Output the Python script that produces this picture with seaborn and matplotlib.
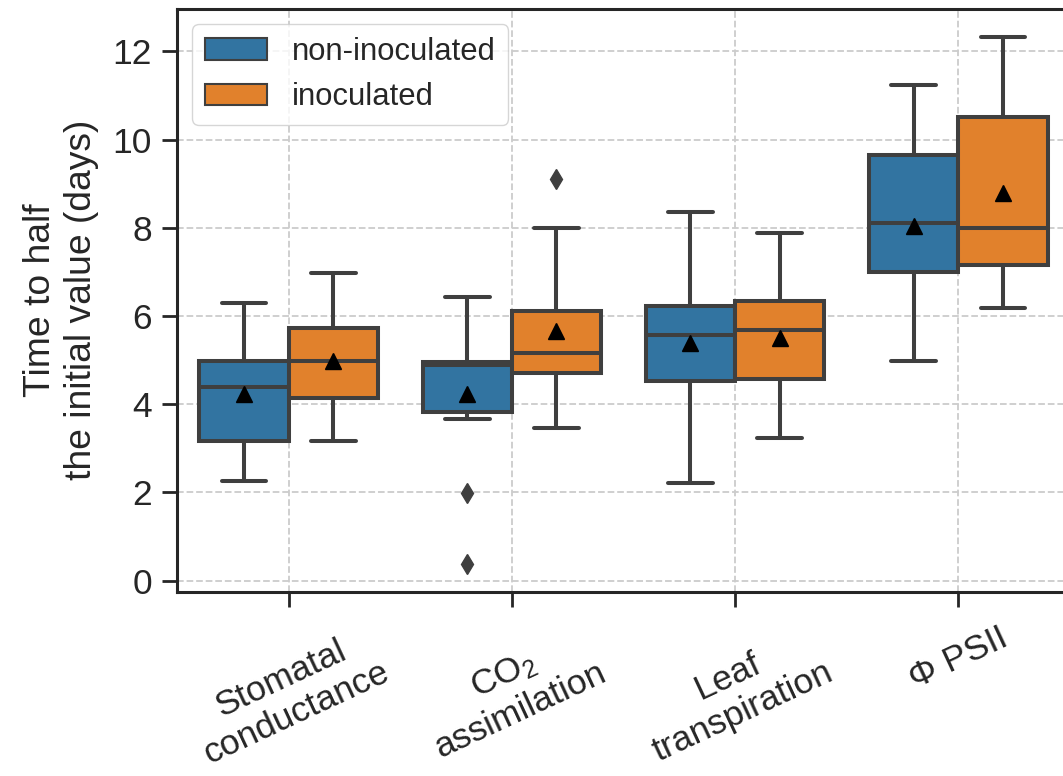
import matplotlib
matplotlib.use("Agg")
import matplotlib.pyplot as plt
from matplotlib.patches import Patch
import seaborn as sns

# Measured variables (x-axis categories)
categories = ["Stomatal\nconductance", "CO$_\\mathregular{2}$\nassimilation",
              "Leaf\ntranspiration", "\u03A6 PSII"]
groups = ["non-inoculated", "inoculated"]

# Box statistics (days) per group, one entry per category
whislo_non = [2.26, 3.66, 2.21, 4.98]
q1_non     = [3.17, 3.83, 4.53, 6.99]
median_non = [4.38, 4.89, 5.58, 8.11]
q3_non     = [4.98, 4.96, 6.22, 9.66]
whishi_non = [6.29, 6.43, 8.35, 11.24]
mean_non   = [4.23, 4.23, 5.39, 8.05]
fliers_non = [[], [1.99, 0.38], [], []]

whislo_ino = [3.17, 3.47, 3.23, 6.18]
q1_ino     = [4.15, 4.71, 4.57, 7.16]
median_ino = [4.98, 5.17, 5.69, 7.99]
q3_ino     = [5.73, 6.11, 6.35, 10.50]
whishi_ino = [6.97, 7.99, 7.87, 12.33]
mean_ino   = [4.98, 5.66, 5.50, 8.79]
fliers_ino = [[], [9.11], [], []]

sns.set_style("ticks")
plt.rcParams["font.family"] = ["Liberation Sans", "DejaVu Sans"]
plt.rcParams["mathtext.fontset"] = "custom"
plt.rcParams["mathtext.rm"] = "Liberation Sans"
plt.rcParams["mathtext.default"] = "regular"

pal = sns.color_palette(["#3274a1", "#e1812c"])
gray = "#3f3f3f"

fig = plt.figure(figsize=(10.63, 7.76), dpi=100)
ax = fig.add_axes([0.1665, 0.2375, 0.84, 0.751])


def stats_for(i, lo, q1, med, q3, hi, mean, fl):
    return dict(whislo=lo[i], q1=q1[i], med=med[i], q3=q3[i], whishi=hi[i],
                mean=mean[i], fliers=fl[i])


series = [
    (whislo_non, q1_non, median_non, q3_non, whishi_non, mean_non, fliers_non),
    (whislo_ino, q1_ino, median_ino, q3_ino, whishi_ino, mean_ino, fliers_ino),
]
offsets = [-0.2, 0.2]
lw = 2.9

for g, (data, off) in enumerate(zip(series, offsets)):
    stats = [stats_for(i, *data) for i in range(len(categories))]
    pos = [i + off for i in range(len(categories))]
    ax.bxp(stats, positions=pos, widths=0.4, patch_artist=True,
           showmeans=True, showfliers=True,
           boxprops=dict(facecolor=pal[g], edgecolor=gray, linewidth=lw),
           medianprops=dict(color=gray, linewidth=lw),
           whiskerprops=dict(color=gray, linewidth=lw),
           capprops=dict(color=gray, linewidth=lw),
           flierprops=dict(marker="d", markerfacecolor=gray, markeredgecolor=gray,
                           markersize=10),
           meanprops=dict(marker="^", markerfacecolor="black",
                          markeredgecolor="black", markersize=12),
           zorder=3)

ax.set_xlim(-0.5, 3.5)
ax.set_ylim(-0.25, 12.96)
ax.set_xticks(range(len(categories)))
ax.set_xticklabels(categories, rotation=25, ha="center", multialignment="center",
                   fontsize=25.5)
ax.set_yticks([0, 2, 4, 6, 8, 10, 12])
ax.tick_params(axis="y", labelsize=25.5, pad=7)
ax.tick_params(axis="x", pad=10)
ax.tick_params(length=11, width=2, color="#262626")
ax.set_ylabel("Time to half\nthe initial value (days)", fontsize=26.8, labelpad=10)
ax.grid(True, linestyle="--", color="#cccccc", linewidth=1.3, zorder=0)
ax.set_axisbelow(True)
for s in ax.spines.values():
    s.set_linewidth(2.2)
    s.set_color("#262626")

handles = [Patch(facecolor=pal[g], edgecolor=gray, linewidth=1.5, label=groups[g])
           for g in range(len(groups))]
ax.legend(handles=handles, loc="upper left", fontsize=22.3, frameon=True,
          edgecolor="#cccccc", borderaxespad=0.5)

fig.savefig("out.png", dpi=100)
